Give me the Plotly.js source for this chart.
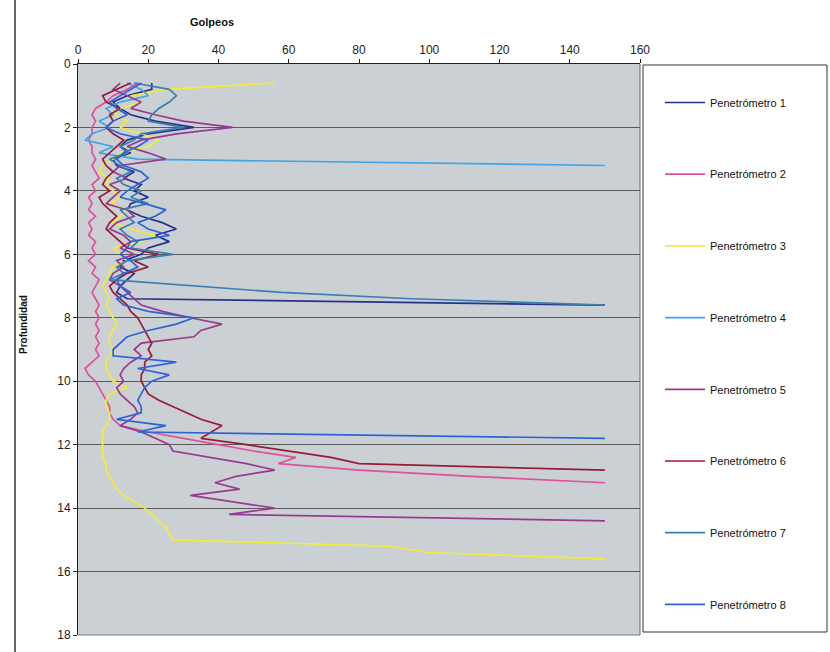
<!DOCTYPE html>
<html>
<head>
<meta charset="utf-8">
<script src="https://cdn.plot.ly/plotly-3.0.1.min.js"></script>
<style>html,body{margin:0;padding:0;background:#fff;}#chart{width:830px;height:652px;}</style>
</head>
<body>
<div id="chart"></div>
<script>
// Depth (Profundidad, m) at each reading
const depth = [0.6,0.8,1.0,1.2,1.4,1.6,1.8,2.0,2.2,2.4,2.6,2.8,3.0,3.2,3.4,3.6,3.8,4.0,4.2,4.4,
  4.6,4.8,5.0,5.2,5.4,5.6,5.8,6.0,6.2,6.4,6.6,6.8,7.0,7.2,7.4,7.6,7.8,8.0,8.2,8.4,
  8.6,8.8,9.0,9.2,9.4,9.6,9.8,10.0,10.2,10.4,10.6,10.8,11.0,11.2,11.4,11.6,11.8,12.0,12.2,12.4,
  12.6,12.8,13.0,13.2,13.4,13.6,13.8,14.0,14.2,14.4,14.6,14.8,15.0,15.2,15.4,15.6];

const seriesNames = ["Penetrómetro 1","Penetrómetro 2","Penetrómetro 3","Penetrómetro 4",
  "Penetrómetro 5","Penetrómetro 6","Penetrómetro 7","Penetrómetro 8"];

// Golpeos per reading, starting at 0.6 m
const p1 = [21,21,14,10,12,15,22,33,20,14,12,15,10,11,16,13,18,16,20,15,
  14,18,24,28,22,26,20,18,13,12,16,14,12,11,14,150];
const p2 = [17,14,10,8,5,4,5,4,4,3,4,4,5,4,5,6,4,5,3,4,
  3,5,3,4,3,5,4,5,3,5,4,6,5,4,5,6,5,6,5,6,
  5,6,5,6,4,2,3,5,6,7,8,9,9,10,12,20,30,40,50,62,
  57,80,112,150];
const p3 = [56,25,15,18,12,10,14,12,18,23,20,12,10,7,6,9,8,10,12,9,
  14,12,10,15,22,18,10,12,14,10,9,8,7,8,9,8,9,10,11,10,
  9,9,10,9,8,8,9,10,14,9,8,8,9,9,8,7,7,7,7,7,
  8,8,9,10,11,13,16,19,21,23,25,26,27,88,100,150];
const p4 = [14,18,20,12,8,10,6,9,4,2,10,6,17,150];
const p5 = [12,10,14,18,15,22,30,44,28,18,14,20,25,12,10,14,9,12,10,8,
  14,16,11,9,13,15,12,16,11,13,10,9,12,14,16,18,24,32,41,35,
  33,18,16,18,15,13,12,13,11,12,14,16,17,15,12,18,22,26,27,38,
  48,56,45,39,46,32,44,56,43,150];
const p6 = [15,11,7,8,12,9,10,8,10,13,11,9,7,8,10,8,7,9,6,7,
  9,11,9,8,10,12,14,23,16,20,14,11,9,10,12,14,15,17,18,19,
  20,21,20,21,19,19,18,18,19,20,23,27,31,35,41,38,35,48,60,72,
  80,150];
const p7 = [16,26,28,26,23,21,20,30,18,16,12,14,9,12,15,11,13,18,15,20,
  12,14,16,12,14,17,15,27,14,11,13,9,35,58,95,150];
const p8 = [18,15,12,9,11,14,10,8,12,20,17,13,11,13,18,20,17,14,12,19,
  25,22,17,20,26,15,14,12,15,17,13,11,12,15,11,13,20,33,28,20,
  14,12,10,10,28,17,26,21,19,18,17,18,18,11,25,17,150];

const values = [p1,p2,p3,p4,p5,p6,p7,p8];
const colors = ["#27318a","#e2509c","#f0ec3c","#3ea6e6","#983a92","#9a1a3a","#3a7fb2","#2a64d6"];

const traces = values.map((v,i)=>({
  type:"scatter", mode:"lines", name:seriesNames[i],
  x:v, y:depth.slice(0,v.length),
  line:{color:colors[i], width:1.7},
  legendgroup:"g"+i
}));

// plot area in pixels: x 78..640, y 64..635
const L=78,R=640,T=64,B=635,W=830,H=652;
const px=(x)=>(x-L)/(R-L), py=(y)=>(B-y)/(B-T);

const layout = {
  width:W, height:H,
  margin:{l:L, r:W-R, t:T, b:H-B, pad:0},
  paper_bgcolor:"#ffffff",
  plot_bgcolor:"#cbd0d5",
  font:{family:"Liberation Sans, Arial, sans-serif", color:"#111"},
  showlegend:true,
  legend:{x:px(660), y:py(88), xanchor:"left", yanchor:"top",
    bgcolor:"rgba(0,0,0,0)", borderwidth:0,
    font:{size:11, color:"#111"}, traceorder:"grouped", tracegroupgap:52.7,
    itemwidth:40},
  xaxis:{side:"top", range:[0,160], dtick:20, tick0:0, showgrid:false, zeroline:false,
    showline:true, linecolor:"#222", linewidth:1, ticks:"outside", ticklen:4, tickcolor:"#222",
    tickfont:{size:12, color:"#222"}},
  yaxis:{range:[18,0], dtick:2, tick0:0, showgrid:true, gridcolor:"#5a5a5a", gridwidth:1,
    zeroline:false, showline:true, linecolor:"#222", linewidth:1, ticks:"outside", ticklen:4,
    tickcolor:"#222", tickfont:{size:12, color:"#222"}},
  annotations:[
    {text:"<b>Golpeos</b>", xref:"paper", yref:"paper", x:px(212), y:py(22),
      xanchor:"center", yanchor:"middle", showarrow:false, font:{size:11, color:"#111"}},
    {text:"<b>Profundidad</b>", xref:"paper", yref:"paper", x:px(23), y:py(325),
      xanchor:"center", yanchor:"middle", showarrow:false, textangle:-90, font:{size:10, color:"#111"}}
  ],
  shapes:[
    {type:"rect", xref:"paper", yref:"paper", x0:px(643), x1:px(827), y0:py(632), y1:py(65),
      line:{color:"#333", width:1}, fillcolor:"rgba(0,0,0,0)"},
    {type:"line", xref:"paper", yref:"paper", x0:1, x1:1, y0:0, y1:1, line:{color:"#666", width:1}},
    {type:"line", xref:"paper", yref:"paper", x0:0, x1:1, y0:0, y1:0, line:{color:"#777", width:1}},
    {type:"line", xref:"paper", yref:"paper", x0:px(15), x1:px(15), y0:py(0), y1:py(652), line:{color:"#333", width:1.5}}
  ]
};

Plotly.newPlot("chart", traces, layout, {displayModeBar:false, staticPlot:true});
</script>
</body>
</html>
